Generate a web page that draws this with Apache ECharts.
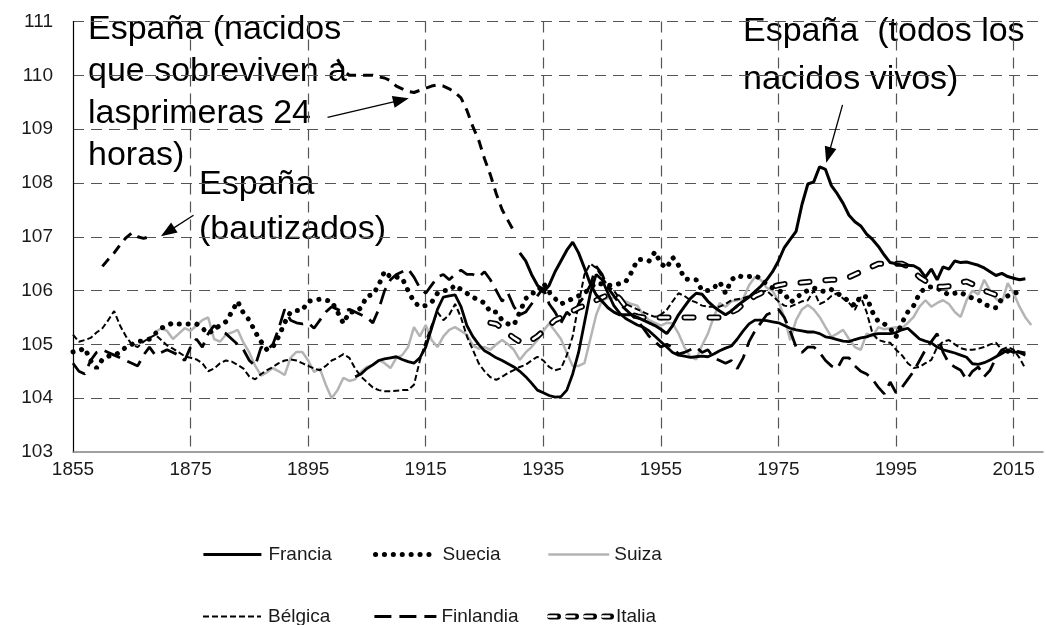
<!DOCTYPE html>
<html>
<head>
<meta charset="utf-8">
<script src="https://cdn.jsdelivr.net/npm/echarts/dist/echarts.min.js"></script>
<style>
  html, body { margin: 0; padding: 0; background: #fff; }
  #chart { width: 1046px; height: 625px; }
</style>
</head>
<body>
<div id="chart"></div>
<script>
  // años: el eje x se dibuja como (año - 1855) para que las marcas caigan en 1855, 1875, ...
  const firstYear = 1855;
  const lastYear = 2020;

  const franciaStart = 1903;
  const francia = [
    104.40, 104.45, 104.55, 104.62, 104.70, 104.73, 104.75, 104.77, 104.72, 104.68,
    104.65, 104.75, 104.95, 105.30, 105.65, 105.88, 105.90, 105.92, 105.70, 105.35,
    105.15, 105.00, 104.88, 104.82, 104.75, 104.70, 104.64, 104.58, 104.50, 104.40,
    104.28, 104.15, 104.10, 104.05, 104.02, 104.03, 104.15, 104.45, 104.85, 105.40,
    105.95, 106.30, 106.20, 105.95, 105.72, 105.58, 105.48, 105.42, 105.36, 105.32,
    105.25, 105.15, 105.05, 104.95, 104.85, 104.80, 104.78, 104.76, 104.77, 104.78,
    104.77, 104.82, 104.88, 104.93, 104.97, 105.10, 105.25, 105.38, 105.45, 105.45,
    105.44, 105.42, 105.40, 105.35, 105.30, 105.27, 105.25, 105.23, 105.23, 105.20,
    105.14, 105.12, 105.09, 105.06, 105.05, 105.09, 105.12, 105.14, 105.18, 105.20,
    105.20, 105.20, 105.22, 105.27, 105.30, 105.20, 105.10, 105.06, 105.03, 104.95,
    104.90, 104.87, 104.84, 104.80, 104.76, 104.64, 104.63, 104.66, 104.71, 104.77,
    104.83, 104.90, 104.85, 104.86, 104.84
  ];

  const sueciaStart = 1855;
  const suecia = [
    104.86, 104.88, 104.93, 104.70, 104.56, 104.72, 104.78, 104.80, 104.85, 104.95,
    105.00, 105.05, 105.07, 105.10, 105.20, 105.30, 105.35, 105.40, 105.38, 105.38,
    105.38, 105.38, 105.30, 105.20, 105.28, 105.35, 105.42, 105.60, 105.80, 105.58,
    105.45, 105.23, 105.05, 104.90, 104.95, 105.15, 105.40, 105.60, 105.63, 105.63,
    105.80, 105.82, 105.84, 105.82, 105.80, 105.60, 105.39, 105.60, 105.60, 105.68,
    105.90, 105.92, 106.10, 106.36, 106.25, 106.25, 106.23, 106.00, 105.79, 105.70,
    105.72, 105.78, 105.95, 106.00, 106.00, 106.10, 106.02, 105.95, 105.88, 105.82,
    105.77, 105.60, 105.60, 105.45, 105.38, 105.36, 105.60, 105.85, 105.95, 105.97,
    106.14, 105.97, 105.85, 105.75, 105.80, 105.85, 105.90, 105.95, 106.05, 106.14,
    106.12, 106.10, 106.10, 106.13, 106.16, 106.34, 106.57, 106.58, 106.55, 106.72,
    106.50, 106.42, 106.62, 106.47, 106.22, 106.20, 106.20, 106.00, 106.00, 106.05,
    106.16, 105.95, 106.20, 106.28, 106.25, 106.26, 106.28, 106.22, 106.12, 106.05,
    106.00, 105.95, 105.78, 105.85, 105.96, 106.00, 106.05, 106.00, 105.98, 106.02,
    105.95, 105.88, 105.80, 105.72, 105.90, 105.88, 105.60, 105.42, 105.38, 105.30,
    105.14, 105.40, 105.60, 105.72, 105.95, 106.05, 106.07, 106.05, 105.98, 105.92,
    105.95, 105.97, 105.90, 105.86, 105.83, 105.75, 105.70, 105.68, 105.85, 105.90,
    105.95, 105.97
  ];

  const suizaStart = 1869;
  const suiza = [
    105.23, 105.30, 105.25, 105.10, 105.20, 105.30, 105.25, 105.35, 105.45, 105.50,
    105.10, 105.05, 105.18, 105.22, 105.27, 105.03, 104.85, 104.60, 104.42, 104.48,
    104.56, 104.50, 104.43, 104.75, 104.86, 104.86, 104.70, 104.49, 104.55, 104.25,
    104.00, 104.15, 104.38, 104.32, 104.35, 104.49, 104.58, 104.62, 104.71, 104.65,
    104.56, 104.75, 104.80, 104.95, 105.32, 105.15, 105.36, 105.08, 104.95, 105.15,
    105.27, 105.32, 105.25, 105.18, 104.98, 104.92, 104.95, 104.90, 105.00, 105.08,
    105.00, 104.90, 104.71, 104.85, 104.95, 105.08, 105.25, 105.39, 105.25, 105.10,
    104.84, 104.60, 104.60, 104.65, 105.10, 105.55, 105.82, 105.86, 105.86, 105.84,
    105.80, 105.75, 105.72, 105.55, 105.45, 105.40, 105.35, 105.40, 105.39, 105.20,
    104.95, 104.77, 104.72, 104.98, 105.20, 105.51, 105.77, 105.70, 105.80, 105.82,
    105.85, 106.10, 106.25, 106.20, 106.05, 106.00, 105.80, 105.50, 105.08, 105.45,
    105.65, 105.73, 105.65, 105.51, 105.32, 105.14, 105.20, 105.27, 105.10, 104.95,
    104.90, 105.20, 105.15, 105.32, 105.28, 105.30, 105.32, 105.30, 105.40, 105.51,
    105.70, 105.82, 105.70, 105.77, 105.82, 105.75, 105.60, 105.51, 105.82, 106.00,
    105.93, 106.20, 106.00, 105.85, 105.77, 106.14, 105.95, 105.70, 105.50, 105.36
  ];

  const belgicaStart = 1855;
  const belgica = [
    105.18, 105.05, 105.08, 105.12, 105.22, 105.30, 105.45, 105.62, 105.35, 105.15,
    105.00, 104.95, 105.05, 105.12, 105.18, 105.08, 104.98, 104.92, 104.85, 104.78,
    104.75, 104.72, 104.65, 104.50, 104.55, 104.65, 104.70, 104.68, 104.62, 104.55,
    104.40, 104.35, 104.45, 104.52, 104.58, 104.65, 104.70, 104.72, 104.70, 104.65,
    104.60, 104.55, 104.52, 104.60, 104.70, 104.75, 104.82, 104.75, 104.55, 104.40,
    104.30, 104.20, 104.15, 104.13, 104.13, 104.14, 104.15, 104.15, 104.25, 104.70,
    105.05, 105.35, 105.60, 105.45, 105.55, 105.75, 105.50, 105.15, 104.90, 104.65,
    104.50, 104.39, 104.34, 104.40, 104.47, 104.52, 104.58, 104.62, 104.70, 104.77,
    104.70, 104.58, 104.52, 104.55, 104.80, 105.15, 105.75, 106.30, 106.50, 106.42,
    106.25, 106.08, 106.00, 105.85, 105.75, 105.70, 105.65, 105.60, 105.55, 105.51,
    105.55, 105.64, 105.80, 105.95, 105.90, 105.82, 105.78, 105.72, 105.70, 105.70,
    105.70, 105.75, 105.82, 105.84, 105.86, 105.90, 105.93, 105.96, 106.00, 105.90,
    105.80, 105.72, 105.70, 105.75, 105.80, 105.82, 106.00, 105.75, 105.80, 105.90,
    105.95, 105.85, 105.77, 105.64, 105.88, 105.60, 105.20, 105.08, 105.05, 105.03,
    104.90, 104.80, 104.65, 104.56, 104.58, 104.65, 104.71, 104.95, 105.05, 105.08,
    105.00, 104.93, 104.90, 104.90, 104.92, 104.95, 105.00, 105.03, 104.90, 104.95,
    104.90, 104.75, 104.55
  ];

  const finlandiaStart = 1855;
  const finlandia = [
    104.65, 104.50, 104.45, 104.70, 104.85, 104.90, 104.85, 104.80, 104.75, 104.70,
    104.65, 104.60, 104.80, 104.95, 104.80, 104.85, 104.90, 104.85, 104.80, 104.70,
    104.95, 105.10, 104.95, 105.20, 105.35, 105.25, 105.20, 105.10, 105.00, 104.90,
    104.70, 104.60, 104.95, 104.90, 105.00, 105.30, 105.65, 105.45, 105.40, 105.38,
    105.40, 105.30, 105.45, 105.60, 105.70, 105.65, 105.60, 105.65, 105.60, 105.55,
    105.50, 105.40, 105.65, 106.00, 106.20, 106.30, 106.35, 106.40, 106.25, 106.05,
    105.95, 106.10, 106.25, 106.30, 106.20, 106.30, 106.38, 106.30, 106.30, 106.25,
    106.35, 106.20, 106.00, 105.80, 105.95, 105.70, 105.55, 105.60, 105.75, 105.90,
    106.05, 105.75, 105.60, 105.40, 105.60, 105.50, 105.75, 105.90, 106.10, 106.45,
    106.30, 106.05, 105.90, 105.75, 105.65, 105.55, 105.45, 105.30, 105.15, 105.05,
    104.95, 105.00, 104.95, 104.82, 104.85, 104.90, 104.95, 104.85, 104.90, 104.75,
    104.70, 104.65, 104.70, 104.55, 104.75, 105.05, 105.25, 105.40, 105.55, 105.60,
    105.65, 105.50, 105.25, 104.95, 104.85, 104.95, 104.95, 104.85, 104.70, 104.60,
    104.55, 104.75, 104.75, 104.60, 104.50, 104.45, 104.35, 104.20, 104.08, 104.30,
    104.10, 104.20, 104.35, 104.50, 104.70, 104.90, 105.05, 105.20, 104.85, 104.65,
    104.58, 104.52, 104.34, 104.50, 104.58, 104.40, 104.52, 104.75, 104.90, 104.85,
    104.92, 104.85, 104.80
  ];

  const italiaStart = 1926;
  const italia = [
    105.40, 105.38, 105.30, 105.20, 105.12, 105.05, 105.03, 105.08, 105.15, 105.25,
    105.35, 105.45, 105.50, 105.55, 105.62, 105.68, 105.72, 105.78, 105.82, 105.87,
    105.92, 105.95, 105.85, 105.70, 105.55, 105.52, 105.50, 105.50, 105.50, 105.50,
    105.50, 105.50, 105.50, 105.50, 105.50, 105.50, 105.50, 105.50, 105.50, 105.50,
    105.55, 105.60, 105.65, 105.75, 105.82, 105.90, 105.95, 106.02, 106.07, 106.10,
    106.12, 106.13, 106.14, 106.15, 106.16, 106.17, 106.18, 106.19, 106.20, 106.20,
    106.22, 106.25, 106.30, 106.35, 106.40, 106.45, 106.50, 106.50, 106.50, 106.50,
    106.50, 106.45, 106.35, 106.25, 106.18, 106.10, 106.07, 106.07, 106.08, 106.10,
    106.15, 106.17, 106.12, 106.05, 106.00, 105.96, 105.92
  ];

  const espBautStart = 1860;
  const espBautizados = [106.45, 106.58, 106.70, 106.85, 106.98, 107.07, 107.00, 106.97, 107.00];

  const esp24Start = 1900;
  const esp24h = [
    110.30, 110.10, 110.00, 110.00, 110.00, 110.00, 110.00, 109.97, 109.95, 109.90,
    109.80, 109.75, 109.70, 109.68, 109.72, 109.76, 109.80, 109.82, 109.80, 109.75,
    109.68, 109.58, 109.35, 109.05, 108.80, 108.45, 108.15, 107.80, 107.50, 107.30,
    107.10
  ];

  const espTodosStart = 1931;
  const espTodos = [
    106.70, 106.55, 106.30, 106.10, 105.97, 106.10, 106.35, 106.55, 106.75, 106.90,
    106.70, 106.42, 106.12, 105.92, 105.80, 105.68, 105.60, 105.55, 105.55, 105.55,
    105.50, 105.45, 105.40, 105.35, 105.28, 105.20, 105.35, 105.55, 105.70, 105.85,
    105.95, 105.93, 105.80, 105.70, 105.62, 105.55, 105.62, 105.72, 105.80, 105.88,
    105.98, 106.08, 106.20, 106.35, 106.55, 106.80, 106.95, 107.10, 107.60, 107.98,
    108.02, 108.30, 108.25, 107.95, 107.80, 107.62, 107.40, 107.28, 107.20, 107.05,
    106.95, 106.82, 106.66, 106.52, 106.50, 106.47, 106.47, 106.46, 106.40, 106.25,
    106.40, 106.20, 106.44, 106.40, 106.55, 106.52, 106.53, 106.50, 106.47, 106.42,
    106.35, 106.28, 106.32, 106.26, 106.23, 106.20, 106.22
  ];

  // flechas de las anotaciones: [año, valor] de inicio y punta
  const arrows = [
    [[1898.3, 109.22], [1910.8, 109.54]],
    [[1875.5, 107.40], [1871.1, 107.09]],
    [[1985.9, 109.45], [1983.5, 108.52]]
  ];

  const labelFont = '34px "Liberation Sans", Arial, sans-serif';
  const axisFont = { fontSize: 19, color: '#1a1a1a', fontFamily: '"Liberation Sans", Arial, sans-serif' };

  function toPairs(start, vals) {
    return vals.map((v, i) => [start + i - firstYear, v]);
  }

  function lineSeries(name, start, vals, lineStyle, z) {
    return {
      name: name,
      type: 'line',
      data: toPairs(start, vals),
      symbol: 'none',
      smooth: false,
      z: z || 2,
      lineStyle: Object.assign({ color: '#000' }, lineStyle),
      itemStyle: { color: lineStyle.color || '#000' },
      emphasis: { disabled: true }
    };
  }

  const chart = echarts.init(document.getElementById('chart'));

  const italiaDash = [9, 16];
  const legendText = { fontSize: 19, color: '#1a1a1a', fontFamily: '"Liberation Sans", Arial, sans-serif' };

  // una leyenda por elemento para fijar las columnas como en el original
  function legendItem(name, left, top, width, lineStyle, extra) {
    return Object.assign({
      data: [name],
      left: left - 5,
      top: top,
      itemWidth: width,
      itemHeight: 14,
      selectedMode: false,
      itemStyle: { opacity: 0 },
      lineStyle: lineStyle,
      textStyle: legendText
    }, extra || {});
  }

  const row1 = 540, row2 = 602;

  const option = {
    animation: false,
    backgroundColor: '#fff',
    grid: { left: 73, right: 3, top: 21.5, bottom: 173, containLabel: false },
    xAxis: {
      type: 'value',
      min: 0,
      max: lastYear - firstYear,
      interval: 20,
      axisLine: { show: true, lineStyle: { color: '#808080', width: 1.5 } },
      axisTick: { show: false },
      axisLabel: Object.assign({
        margin: 8,
        showMaxLabel: false,
        formatter: v => String(v + firstYear)
      }, axisFont),
      splitLine: {
        show: true,
        showMinLine: false,
        showMaxLine: false,
        lineStyle: { color: '#555', width: 1.2, type: [11, 7] }
      }
    },
    yAxis: {
      type: 'value',
      min: 103,
      max: 111,
      interval: 1,
      axisLine: { show: true, lineStyle: { color: '#000', width: 1.2 } },
      axisTick: { show: false },
      axisLabel: Object.assign({ margin: 20 }, axisFont),
      splitLine: {
        show: true,
        showMinLine: false,
        lineStyle: { color: '#555', width: 1.2, type: [11, 7] }
      }
    },
    legend: [
      legendItem('Francia', 202, row1, 58, { width: 2.8 },
        { textStyle: Object.assign({ padding: [0, 0, 0, 2] }, legendText) }),
      legendItem('Suecia', 373, row1, 62, { width: 5 }),
      legendItem('Suiza', 547, row1, 61, { width: 2.5 }),
      legendItem('Bélgica', 202, row2, 58, { width: 2 },
        { textStyle: Object.assign({ padding: [0, 0, 0, 2] }, legendText) }),
      legendItem('Finlandia', 373, row2, 62, { width: 2.8 }),
      legendItem('Italia', 547, row2, 61, { width: 6, type: [8, 10], cap: 'round' }),
      // capa blanca del icono de Italia; mismo texto (transparente) para que quede a la misma altura
      legendItem('Italia\u200b', 547, row2, 61, { width: 2.5, type: [8, 10], cap: 'round' },
        { z: 5, formatter: () => 'Italia', textStyle: Object.assign({}, legendText, { color: 'rgba(0,0,0,0)' }) })
    ],
    graphic: [
      {
        type: 'text', left: 88, top: 9, silent: true,
        style: { text: 'España (nacidos\nque sobreviven a\nlasprimeras 24\nhoras)', font: labelFont, lineHeight: 42, fill: '#000' }
      },
      {
        type: 'text', left: 199, top: 162, silent: true,
        style: { text: 'España\n(bautizados)', font: labelFont, lineHeight: 45, fill: '#000' }
      },
      {
        type: 'text', left: 743, top: 8, silent: true,
        style: { text: 'España  (todos los\nnacidos vivos)', font: labelFont, lineHeight: 48, fill: '#000' }
      }
    ],
    series: [
      lineSeries('Suiza', suizaStart, suiza, { color: '#b4b4b4', width: 2.5 }, 1),
      lineSeries('Bélgica', belgicaStart, belgica, { width: 2, type: [6, 3] }),
      lineSeries('Finlandia', finlandiaStart, finlandia, { width: 2.8, type: [17, 8] }),
      lineSeries('Suecia', sueciaStart, suecia, { width: 5, type: [0.1, 8.8], cap: 'round' }),
      lineSeries('Italia', italiaStart, italia, { width: 6, type: italiaDash, cap: 'round' }, 3),
      lineSeries('Italia\u200b', italiaStart, italia, { color: '#fff', width: 2.5, type: italiaDash, cap: 'round' }, 3),
      lineSeries('Francia', franciaStart, francia, { width: 2.8 }, 4),
      lineSeries('España (todos los nacidos vivos)', espTodosStart, espTodos, { width: 3 }, 4),
      lineSeries('España (bautizados)', espBautStart, espBautizados, { width: 3, type: [10, 7] }, 4),
      Object.assign(
        lineSeries('España (nacidos que sobreviven a las primeras 24 horas)', esp24Start, esp24h, { width: 3, type: [10, 7] }, 4),
        {
          markLine: {
            silent: true,
            symbol: ['none', 'triangle'],
            symbolSize: [12, 16],
            label: { show: false },
            lineStyle: { color: '#000', width: 1.3, type: 'solid' },
            data: arrows.map(a => [
              { coord: [a[0][0] - firstYear, a[0][1]] },
              { coord: [a[1][0] - firstYear, a[1][1]] }
            ])
          }
        }
      )
    ]
  };

  chart.setOption(option);
</script>
</body>
</html>
